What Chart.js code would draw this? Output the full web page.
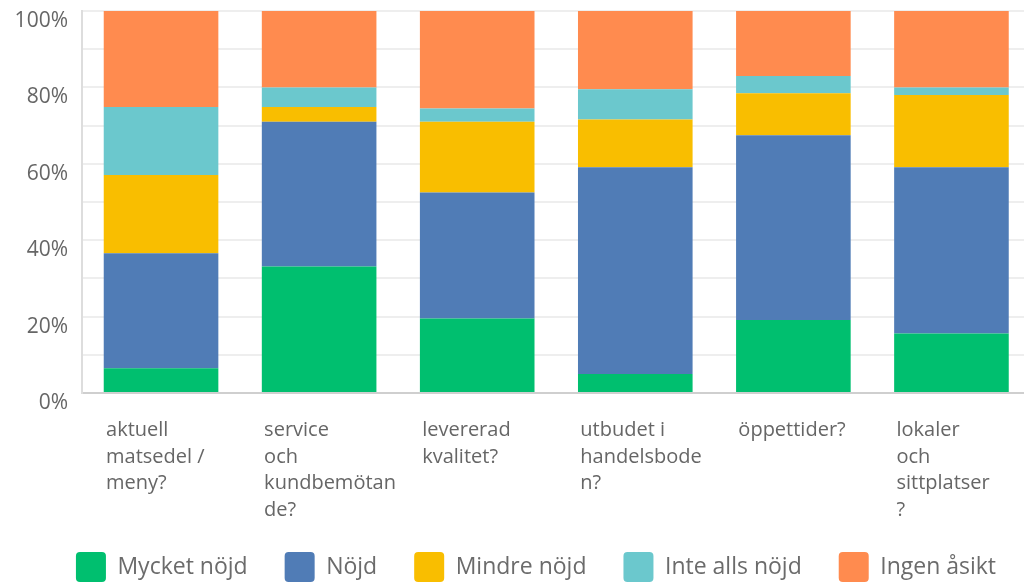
<!DOCTYPE html>
<html>
<head>
<meta charset="utf-8">
<script src="https://cdn.jsdelivr.net/npm/chart.js@4"></script>
<style>
  html, body { margin: 0; padding: 0; background: #fff; overflow: hidden; }
  #wrap { width: 1072px; height: 601px; }
</style>
</head>
<body>
<div id="wrap"><canvas id="surveyChart"></canvas></div>
<script>
// frågor (x-axeln), radbrutna som i originalet
const categories = [
  ['aktuell', 'matsedel /', 'meny?'],
  ['service', 'och', 'kundbemötan', 'de?'],
  ['levererad', 'kvalitet?'],
  ['utbudet i', 'handelsbode', 'n?'],
  ['öppettider?'],
  ['lokaler', 'och', 'sittplatser', '?']
];

// andel svar i procent per fråga
const mycketNojd = [6.5, 33.1, 19.5, 5.0, 19.1, 15.6];
const nojd = [30.1, 37.9, 33.0, 54.1, 48.4, 43.5];
const mindreNojd = [20.5, 3.9, 18.5, 12.5, 11.0, 18.9];
const inteAllsNojd = [17.8, 5.1, 3.5, 7.9, 4.5, 2.0];
const ingenAsikt = [25.1, 20.0, 25.5, 20.5, 17.0, 20.0];

const yTicks = [0, 20, 40, 60, 80, 100];

const series = [
  { label: 'Mycket nöjd', data: mycketNojd, color: '#00bf6f' },
  { label: 'Nöjd', data: nojd, color: '#507cb6' },
  { label: 'Mindre nöjd', data: mindreNojd, color: '#f9be00' },
  { label: 'Inte alls nöjd', data: inteAllsNojd, color: '#6bc8cd' },
  { label: 'Ingen åsikt', data: ingenAsikt, color: '#ff8b4f' }
];

const FONT = "'Open Sans', sans-serif";

// flytta legenden lite: centrerad över hela bilden och närmare etiketterna
const legendShift = {
  id: 'legendShift',
  afterLayout(chart) {
    const lg = chart.legend;
    if (!lg) return;
    lg.left += 19.5;
    lg.right += 19.5;
    lg.top -= 9;
    lg.bottom -= 9;
  }
};

const ctx = document.getElementById('surveyChart').getContext('2d');
new Chart(ctx, {
  type: 'bar',
  data: {
    labels: categories,
    datasets: series.map(s => ({
      label: s.label,
      data: s.data,
      backgroundColor: s.color,
      borderWidth: 0,
      categoryPercentage: 1,
      barPercentage: 0.725
    }))
  },
  options: {
    responsive: true,
    maintainAspectRatio: false,
    animation: false,
    layout: { padding: { top: 11, left: 0, right: 39, bottom: 0 } },
    plugins: {
      tooltip: { enabled: false },
      legend: {
        position: 'bottom',
        labels: {
          boxWidth: 30,
          boxHeight: 30,
          useBorderRadius: true,
          borderRadius: 4,
          padding: 37,
          color: '#6b6b6b',
          font: { family: FONT, size: 23 }
        }
      }
    },
    scales: {
      x: {
        stacked: true,
        afterFit: scale => { scale.height = 131; },
        grid: { display: false, drawTicks: false },
        border: { display: true, color: '#cfcfcf', width: 2 },
        ticks: {
          autoSkip: false,
          maxRotation: 0,
          align: 'start',
          labelOffset: -55,
          padding: 24,
          color: '#666',
          font: { family: FONT, size: 20, lineHeight: 1.335 }
        }
      },
      y: {
        stacked: true,
        min: 0,
        max: 100,
        afterFit: scale => {
          scale.width = 82;
          scale.paddingTop = 0;
          scale.paddingBottom = 0;
        },
        grid: { color: '#eeeeee', lineWidth: 2, drawTicks: false },
        border: { display: true, color: '#dddddd', width: 2 },
        ticks: {
          stepSize: 10,
          padding: 14,
          labelOffset: 10,
          color: '#666',
          font: { family: FONT, size: 21, lineHeight: 1 },
          callback: v => (yTicks.includes(v) ? v + '%' : '')
        }
      }
    }
  },
  plugins: [legendShift]
});
</script>
</body>
</html>
